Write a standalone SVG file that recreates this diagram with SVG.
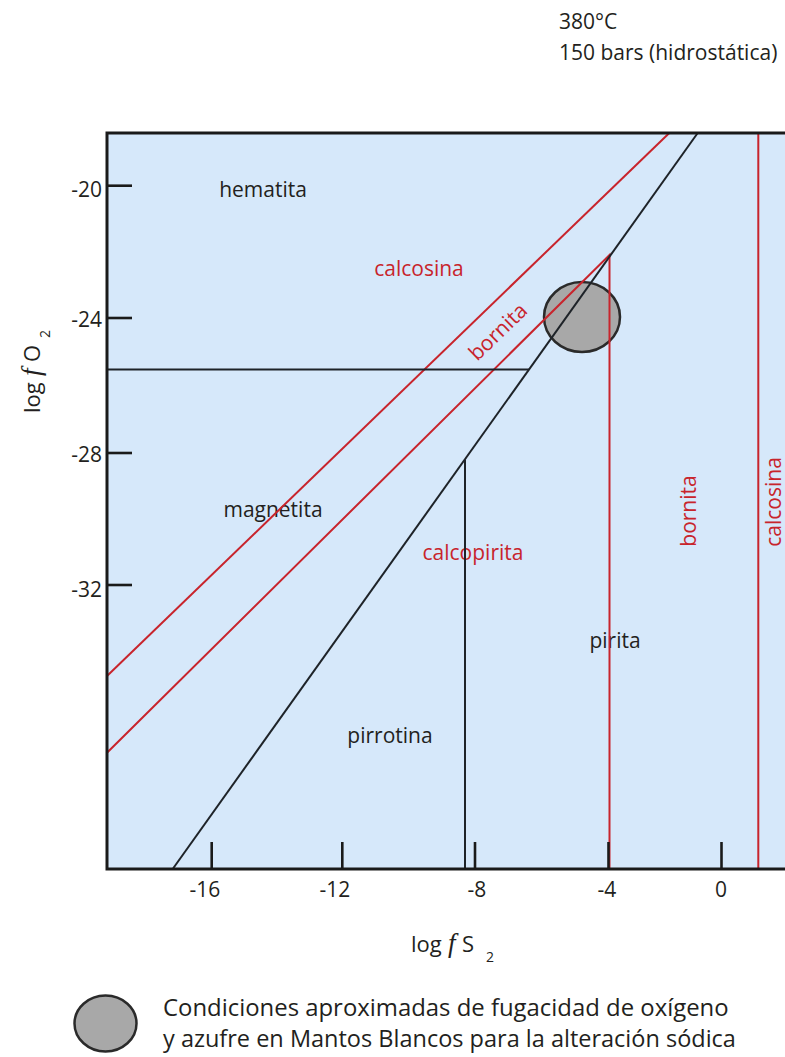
<svg xmlns="http://www.w3.org/2000/svg" width="785" height="1057" viewBox="0 0 785 1057">
<style>
text{font-family:"Open Sans","Noto Sans","Liberation Sans",sans-serif;}
.lbl{font-size:21px;fill:#231f20;text-anchor:middle;}
.red{fill:#c8242c;}
.tick{font-size:21px;fill:#231f20;}
.bl{stroke:#1e2328;stroke-width:2;fill:none;}
.rd{stroke:#c8242c;stroke-width:2;fill:none;}
.ax{stroke:#1a1a1a;stroke-width:3;fill:none;}
.tk{stroke:#1a1a1a;stroke-width:2.6;}
.ell{fill:#a8a8a8;stroke:#2a2a2a;stroke-width:2.5;}
.it{font-family:"Liberation Serif","DejaVu Serif",serif;font-style:italic;font-size:27px;}
</style>
<rect width="785" height="1057" fill="#ffffff"/>
<g id="conditions">
<text x="559" y="29" font-size="21" fill="#231f20">380°C</text>
<text x="559" y="60" font-size="21" fill="#231f20">150 bars (hidrostática)</text>
</g>
<g id="plot">
<rect x="107" y="133" width="680" height="736" fill="#d6e8fa"/>
</g>
<g id="labels">
<text class="lbl" x="263" y="197">hematita</text>
<text class="lbl red" x="419" y="276">calcosina</text>
<text class="lbl red" transform="translate(503,337) rotate(-44)">bornita</text>
<text class="lbl" x="273" y="517">magnetita</text>
<text class="lbl red" x="473" y="560">calcopirita</text>
<text class="lbl" x="615" y="648">pirita</text>
<text class="lbl" x="390" y="743">pirrotina</text>
<text class="lbl red" transform="translate(696,511) rotate(-90)">bornita</text>
<text class="lbl red" font-size="20" transform="translate(781,502) rotate(-90)">calcosina</text>
</g>
<g id="region">
<ellipse class="ell" cx="582" cy="317" rx="38" ry="35"/>
</g>
<g id="connectors">
<line class="rd" x1="107" y1="676" x2="669.3" y2="133"/>
<polyline class="rd" points="107,752.7 609.5,255 609.5,869"/>
<line class="rd" x1="758.3" y1="133" x2="758.3" y2="869"/>
<line class="bl" x1="697.7" y1="133" x2="172.7" y2="869"/>
<line class="bl" x1="107" y1="369.5" x2="529" y2="369.5"/>
<line class="bl" x1="465" y1="459.5" x2="465" y2="869"/>
</g>
<g id="axes">
<polyline class="ax" points="787,133 107,133 107,869 787,869"/>
<line class="tk" x1="107" y1="185.7" x2="132" y2="185.7"/>
<line class="tk" x1="107" y1="318" x2="132" y2="318"/>
<line class="tk" x1="107" y1="453" x2="132" y2="453"/>
<line class="tk" x1="107" y1="585" x2="132" y2="585"/>
<line class="tk" x1="211.7" y1="842" x2="211.7" y2="869"/>
<line class="tk" x1="342.3" y1="842" x2="342.3" y2="869"/>
<line class="tk" x1="475" y1="842" x2="475" y2="869"/>
<line class="tk" x1="608.5" y1="842" x2="608.5" y2="869"/>
<line class="tk" x1="721.5" y1="842" x2="721.5" y2="869"/>
<g class="tick" text-anchor="end">
<text x="102" y="197">-20</text>
<text x="102" y="327">-24</text>
<text x="102" y="462">-28</text>
<text x="102" y="597">-32</text>
</g>
<g class="tick" text-anchor="middle">
<text x="205" y="897">-16</text>
<text x="335" y="897">-12</text>
<text x="477" y="897">-8</text>
<text x="607" y="897">-4</text>
<text x="721" y="897">0</text>
</g>
<text font-size="22" fill="#231f20" x="411" y="952">log<tspan class="it" x="448">f</tspan><tspan x="462">S</tspan><tspan x="486" dy="10" font-size="14">2</tspan></text>
<text font-size="22" fill="#231f20" transform="translate(40,413) rotate(-90)">log<tspan class="it" x="37">f</tspan><tspan x="51">O</tspan><tspan x="75" dy="10" font-size="14">2</tspan></text>
</g>
<g id="legend">
<ellipse class="ell" cx="105.5" cy="1023.5" rx="31" ry="28"/>
<text x="163" y="1016" font-size="23.9" fill="#231f20">Condiciones aproximadas de fugacidad de oxígeno</text>
<text x="163" y="1047" font-size="23.5" fill="#231f20">y azufre en Mantos Blancos para la alteración sódica</text>
</g>
</svg>
